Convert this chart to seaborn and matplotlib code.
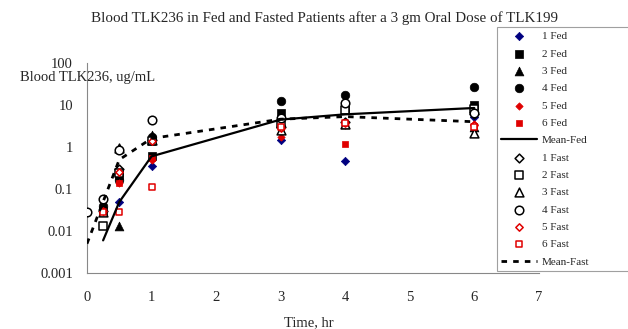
import matplotlib
matplotlib.use('Agg')

import numpy as np
import matplotlib.pyplot as plt
import seaborn as sns


# ---------------------------------------------------
# Data
# ---------------------------------------------------

fed_times = [0.25, 0.5, 1, 3, 4, 6]
fed_1 = [np.nan, 0.05, 0.35, 1.5, 0.47, 5.2]
fed_2 = [0.03, 0.22, 0.6, 6.4, 8.5, 10.0]
fed_3 = [np.nan, 0.013, 1.9, 4.0, 3.6, 3.0]
fed_4 = [0.04, 0.16, 1.7, 12.7, 17.0, 27.0]
fed_5 = [0.03, 0.14, 0.5, 1.7, 3.3, 3.5]
fed_6 = [np.nan, 0.14, 0.55, 3.0, 1.2, 3.2]
mean_fed = [0.006, 0.049, 0.6, 4.5, 6.0, 8.5]

fast_times = [0, 0.25, 0.5, 1, 3, 4, 6]
fast_1 = [np.nan, 0.03, 0.3, 1.5, 3.0, 4.0, 6.0]
fast_2 = [np.nan, 0.013, 0.24, 1.4, 3.5, 7.5, 8.0]
fast_3 = [np.nan, 0.028, 0.95, 1.5, 2.5, 3.5, 2.1]
fast_4 = [0.028, 0.057, 0.85, 4.4, 5.0, 11.0, 6.5]
fast_5 = [np.nan, 0.03, 0.25, 1.4, 2.8, 3.8, 3.3]
fast_6 = [np.nan, 0.028, 0.028, 0.11, 3.0, 3.8, 3.0]
mean_fast = [0.005, 0.05, 0.5, 1.6, 4.6, 5.3, 4.0]

yticks = [0.001, 0.01, 0.1, 1, 10, 100]
ytick_labels = ['0.001', '0.01', '0.1', '1', '10', '100']


# ---------------------------------------------------
# Style
# ---------------------------------------------------

sns.set_style('white')
plt.rcParams['font.family'] = ['Liberation Serif', 'DejaVu Serif']

NAVY = '#000080'
RED = '#e00000'

fig = plt.figure(figsize=(6.28, 3.29), dpi=100)
ax = fig.add_axes([0.1385, 0.170, 0.7195, 0.6385])


def scatter(times, vals, marker, color, size, label, hollow=False):
    sns.scatterplot(
        x=times,
        y=vals,
        marker=marker,
        s=size,
        color='white' if hollow else color,
        edgecolor=color,
        linewidth=1.1 if hollow else 0.5,
        label=label,
        ax=ax,
        zorder=3
    )


# Fed subjects
scatter(fed_times, fed_1, 'D', NAVY, 18, '1 Fed')
scatter(fed_times, fed_2, 's', 'black', 36, '2 Fed')
scatter(fed_times, fed_3, '^', 'black', 40, '3 Fed')
scatter(fed_times, fed_4, 'o', 'black', 38, '4 Fed')
scatter(fed_times, fed_5, 'D', RED, 14, '5 Fed')
scatter(fed_times, fed_6, 's', RED, 14, '6 Fed')

sns.lineplot(x=fed_times, y=mean_fed, color='black', linewidth=1.6,
             label='Mean-Fed', ax=ax, zorder=4)

# Fasted subjects
scatter(fast_times, fast_1, 'D', 'black', 20, '1 Fast', hollow=True)
scatter(fast_times, fast_2, 's', 'black', 36, '2 Fast', hollow=True)
scatter(fast_times, fast_3, '^', 'black', 40, '3 Fast', hollow=True)
scatter(fast_times, fast_4, 'o', 'black', 38, '4 Fast', hollow=True)
scatter(fast_times, fast_5, 'D', RED, 14, '5 Fast', hollow=True)
scatter(fast_times, fast_6, 's', RED, 14, '6 Fast', hollow=True)

sns.lineplot(x=fast_times, y=mean_fast, color='black', linewidth=2.0,
             linestyle=(0, (2, 2.2)), label='Mean-Fast', ax=ax, zorder=4)


# ---------------------------------------------------
# Axes
# ---------------------------------------------------

ax.set_yscale('log')
ax.set_ylim(0.001, 100)
ax.set_xlim(0, 7)
ax.set_yticks(yticks)
ax.set_yticklabels(ytick_labels)
ax.minorticks_off()
ax.set_xticks(range(8))

for side in ['top', 'right']:
    ax.spines[side].set_visible(False)
for side in ['left', 'bottom']:
    ax.spines[side].set_color('#888888')
    ax.spines[side].set_linewidth(0.8)

ax.tick_params(axis='both', direction='out', length=4, width=0.8,
               color='#888888', labelsize=10.5, pad=6)
ax.tick_params(axis='x', pad=9)

ax.set_xlabel('')
ax.set_ylabel('')

fig.text(0.492, 0.018, 'Time, hr', ha='center', va='center', fontsize=10.5)
fig.text(0.140, 0.763, 'Blood TLK236, ug/mL', ha='center', va='center',
         fontsize=10.5)
fig.text(0.516, 0.945, 'Blood TLK236 in Fed and Fasted Patients after a 3 gm '
         'Oral Dose of TLK199', ha='center', va='center', fontsize=10.8)

handles, labels = ax.get_legend_handles_labels()
ax.get_legend().remove()

leg = fig.legend(
    handles,
    labels,
    loc='upper left',
    bbox_to_anchor=(0.791, 0.0, 0.25, 0.918),
    mode='expand',
    fontsize=8,
    frameon=True,
    fancybox=False,
    labelspacing=0.68,
    handlelength=3.2,
    handletextpad=0.45,
    borderpad=0.4,
    borderaxespad=0
)
leg.get_frame().set_edgecolor('#888888')
leg.get_frame().set_linewidth(0.8)

plt.savefig('out.png', dpi=100)
plt.close()
